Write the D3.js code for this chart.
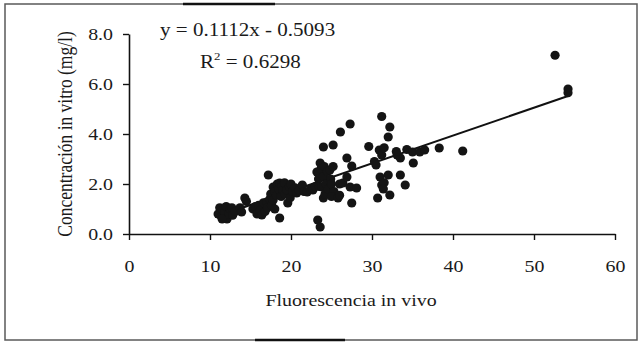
<!DOCTYPE html>
<html>
<head>
<meta charset="utf-8">
<script src="https://cdn.jsdelivr.net/npm/d3@7"></script>
<style>
  html, body { margin: 0; padding: 0; background: #fff; }
  svg { display: block; }
  text { font-family: "Liberation Serif", "Times New Roman", serif; fill: #1a1a1a; }
</style>
</head>
<body>
<svg id="chart" width="643" height="345"></svg>
<script>
// In vivo fluorescence vs. in vitro chlorophyll concentration samples
const fluorescence = [
  11.0, 11.2, 11.4, 11.6, 11.8, 12.0, 12.1, 12.3, 12.5, 12.7, 12.8, 13.1, 11.5,
  13.7, 13.9, 14.3, 14.5,
  15.3, 15.6, 15.8, 16.0, 16.2, 16.4, 16.6, 16.8, 17.0, 17.1, 17.2,
  17.4, 17.5, 17.6, 17.8, 17.8, 18.0, 18.0, 18.2, 18.3, 18.5, 18.6, 18.6, 18.8, 18.9,
  19.0, 19.2, 19.3, 19.5, 19.6, 19.8, 19.9, 20.0, 20.2, 20.5, 20.7, 21.0, 21.4, 21.6,
  22.0, 22.4, 22.7, 23.0,
  23.3, 23.6,
  23.2, 23.6, 23.4, 23.5, 23.8, 23.7, 24.0, 24.0, 24.1, 24.2, 24.3, 24.5, 24.6, 24.8,
  24.9, 25.0, 25.2, 25.3, 25.0,
  24.0, 25.2, 26.1, 27.3,
  25.8, 26.0, 26.0, 26.4, 26.9, 26.9, 27.5, 27.3, 28.1, 27.5,
  29.6, 30.3, 30.5, 30.9, 31.2, 31.2, 31.5, 32.0, 32.2, 33.1, 33.5, 33.0, 34.3,
  35.1, 35.0, 35.9, 36.5, 38.3, 41.2,
  31.0, 31.2, 31.5, 32.0, 30.7, 32.2, 33.5, 34.1, 31.4,
  52.6, 54.2, 54.2
];
const concentration = [
  0.80, 1.05, 0.70, 0.95, 0.85, 1.10, 0.60, 0.80, 1.00, 1.05, 0.75, 0.90, 0.60,
  1.05, 0.88, 1.44, 1.30,
  1.00, 1.10, 0.80, 1.15, 0.95, 0.76, 1.25, 0.90, 1.28, 1.05, 2.36,
  1.40, 1.60, 1.15, 1.88, 1.36, 1.00, 1.70, 1.55, 2.00, 1.80, 2.04, 0.64, 1.50, 1.95,
  1.75, 2.05, 1.60, 1.76, 1.24, 1.90, 1.45, 2.00, 1.70, 1.85, 1.64, 1.75, 1.96, 1.70,
  1.68, 1.80, 1.76, 1.90,
  0.56, 0.28,
  2.48, 2.84, 2.20, 1.90, 1.88, 2.60, 1.44, 2.30, 2.70, 1.60, 2.00, 2.50, 1.80, 2.56,
  2.20, 2.00, 2.70, 1.70, 1.50,
  3.48, 3.56, 4.08, 4.40,
  1.44, 1.55, 2.00, 2.04, 3.04, 2.28, 2.72, 1.88, 1.84, 1.24,
  3.50, 2.90, 2.76, 3.36, 3.16, 4.70, 3.45, 3.88, 4.28, 3.16, 3.04, 3.30, 3.38,
  2.84, 3.28, 3.28, 3.36, 3.44, 3.32,
  2.28, 1.96, 2.05, 2.36, 1.44, 1.56, 2.36, 1.96, 1.80,
  7.15, 5.80, 5.65
];

// Linear fit reported on the chart
const slope = 0.1112;
const intercept = -0.5093;
const rSquared = 0.6298;

const xTicks = [0, 10, 20, 30, 40, 50, 60];
const yTicks = [0, 2, 4, 6, 8];

const svg = d3.select("#chart");
const plot = { left: 129, right: 615, top: 34, bottom: 234 };
const stretch = 1.17;

// outer frame
svg.append("rect")
  .attr("x", 5).attr("y", 4).attr("width", 632).attr("height", 336)
  .attr("fill", "none").attr("stroke", "#5a5a5a").attr("stroke-width", 1.5);
svg.append("line").attr("x1", 183).attr("x2", 275).attr("y1", 4).attr("y2", 4)
  .attr("stroke", "#111").attr("stroke-width", 2.5);
svg.append("line").attr("x1", 255).attr("x2", 345).attr("y1", 340).attr("y2", 340)
  .attr("stroke", "#111").attr("stroke-width", 2.5);

const x = d3.scaleLinear().domain([0, 60]).range([plot.left, plot.right]);
const y = d3.scaleLinear().domain([0, 8]).range([plot.bottom, plot.top]);

// axes
const xAxis = svg.append("g")
  .attr("transform", `translate(0,${plot.bottom})`)
  .call(d3.axisBottom(x).tickValues(xTicks).tickSize(6).tickSizeOuter(0).tickFormat(d3.format("d")));
const yAxis = svg.append("g")
  .attr("transform", `translate(${plot.left},0)`)
  .call(d3.axisLeft(y).tickValues(yTicks).tickSize(6).tickSizeOuter(0).tickFormat(d3.format(".1f")));

[xAxis, yAxis].forEach(g => {
  g.select(".domain").attr("stroke", "#111").attr("stroke-width", 1.6);
  g.selectAll(".tick line").attr("stroke", "#111").attr("stroke-width", 1.4);
  g.selectAll(".tick text")
    .attr("font-family", "Liberation Serif, serif")
    .attr("font-size", 17)
    .attr("fill", "#1a1a1a");
});
xAxis.selectAll(".tick text")
  .attr("y", 0).attr("dy", 0)
  .attr("transform", `translate(0,38) scale(${stretch},1)`);
yAxis.selectAll(".tick text")
  .attr("x", 0).attr("dy", "0.34em")
  .attr("transform", `translate(-16,0) scale(${stretch},1)`);

// regression line over the observed range
const xr = d3.extent(fluorescence);
svg.append("line")
  .attr("x1", x(xr[0])).attr("y1", y(slope * xr[0] + intercept))
  .attr("x2", x(xr[1])).attr("y2", y(slope * xr[1] + intercept))
  .attr("stroke", "#111").attr("stroke-width", 2);

// samples
svg.append("g").selectAll("circle")
  .data(d3.zip(fluorescence, concentration))
  .join("circle")
  .attr("cx", d => x(d[0]))
  .attr("cy", d => y(d[1]))
  .attr("r", 4.6)
  .attr("fill", "#141414");

// fit equation
const fmt = d3.format(".4f");
svg.append("text")
  .attr("transform", `translate(160,36) scale(${stretch},1)`)
  .attr("font-size", 18)
  .text(`y = ${fmt(slope)}x - ${fmt(-intercept)}`);
const r2 = svg.append("text")
  .attr("transform", `translate(200,68) scale(${stretch},1)`)
  .attr("font-size", 18);
r2.append("tspan").text("R");
r2.append("tspan").attr("font-size", 11).attr("dy", -8).text("2");
r2.append("tspan").attr("dy", 8).text(` = ${fmt(rSquared)}`);

// axis titles
svg.append("text")
  .attr("transform", `translate(351,306) scale(${stretch},1)`)
  .attr("text-anchor", "middle")
  .attr("font-size", 17)
  .text("Fluorescencia in vivo");
svg.append("text")
  .attr("transform", `translate(72,134) rotate(-90) scale(1,${stretch})`)
  .attr("text-anchor", "middle")
  .attr("font-size", 17.5)
  .text("Concentración in vitro (mg/l)");
</script>
</body>
</html>
